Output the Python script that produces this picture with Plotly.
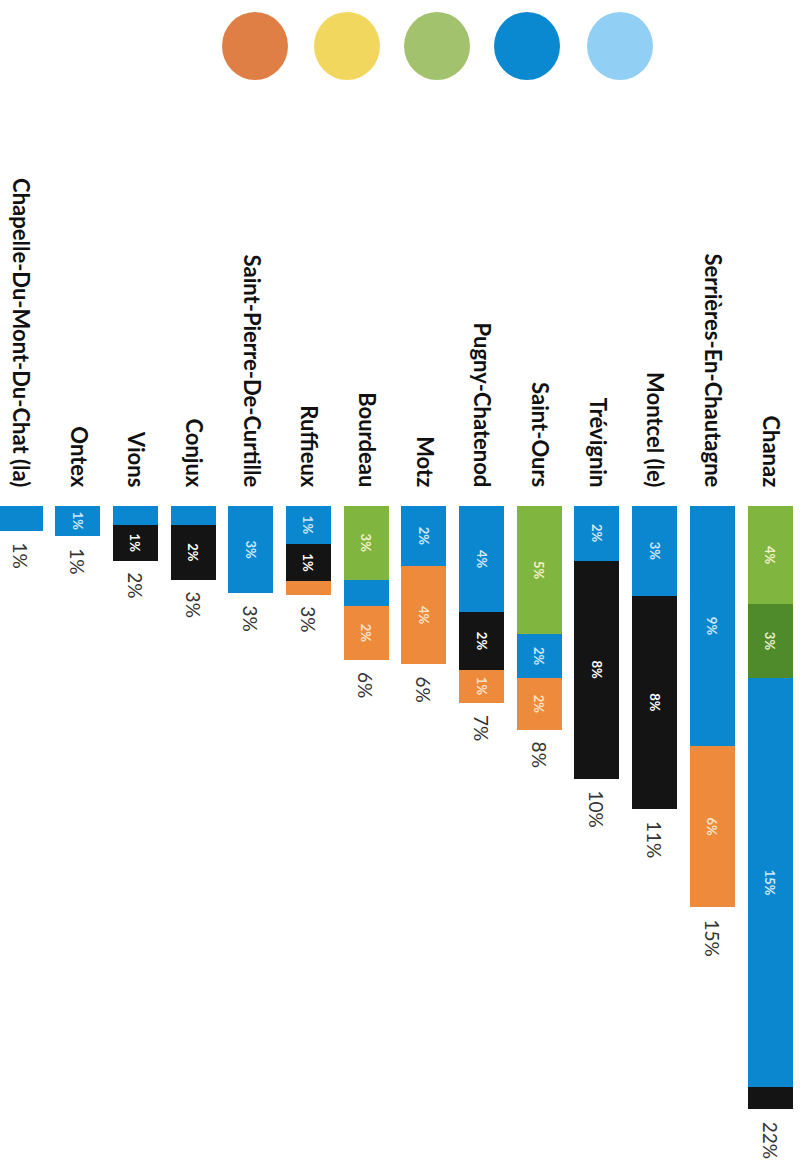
import plotly.graph_objects as go

categories = ["Chanaz", "Serrières-En-Chautagne", "Montcel (le)", "Trévignin", "Saint-Ours",
              "Pugny-Chatenod", "Motz", "Bourdeau", "Ruffieux", "Saint-Pierre-De-Curtille",
              "Conjux", "Vions", "Ontex", "Chapelle-Du-Mont-Du-Chat (la)"]

green      = [3.6, 0, 0, 0, 4.7, 0, 0, 2.7, 0, 0, 0, 0, 0, 0]
dark_green = [2.7, 0, 0, 0, 0, 0, 0, 0, 0, 0, 0, 0, 0, 0]
blue       = [15.0, 8.8, 3.3, 2.0, 1.6, 3.9, 2.2, 0.95, 1.4, 3.2, 0.7, 0.7, 1.1, 0.9]
black      = [0.8, 0, 7.8, 8.0, 0, 2.1, 0, 0, 1.35, 0, 2.0, 1.3, 0, 0]
orange     = [0, 5.9, 0, 0, 1.9, 1.2, 3.6, 2.0, 0.5, 0, 0, 0, 0, 0]

series = [
    ("Vert", green, "#80B53F", "#F4F1C8"),
    ("Vert foncé", dark_green, "#4F8A2B", "#EAF0C8"),
    ("Bleu", blue, "#0B87CF", "#CFE8FA"),
    ("Noir", black, "#141414", "#FFFFFF"),
    ("Orange", orange, "#EE8A3C", "#FBE3C8"),
]

legend_colors = ["#E07F45", "#F2D75E", "#A3C26E", "#0A88D0", "#92CFF5"]

totals = [sum(v) for v in zip(green, dark_green, blue, black, orange)]


def seg_label(v):
    return f"{v:.0f}%" if v >= 1 else ""


fig = go.Figure()
for name, vals, col, tcol in series:
    fig.add_trace(go.Bar(
        x=categories, y=vals, name=name,
        marker=dict(color=col, line=dict(width=0)),
        text=[seg_label(v) for v in vals],
        textposition="inside", insidetextanchor="middle", textangle=90,
        insidetextfont=dict(family="Lato", size=13, color=tcol, weight="bold"),
        width=0.78, hoverinfo="skip",
    ))

for cat, tot in zip(categories, totals):
    fig.add_annotation(
        x=cat, y=tot, text=f"{tot:.0f}%", showarrow=False, textangle=90,
        xanchor="center", yanchor="top", yshift=-10,
        font=dict(family="Lato", size=19, color="#333333"),
    )

H, T = 1167, 506
for i, c in enumerate(legend_colors):
    cx = [255, 347, 437, 527, 620][i] / 803
    fig.add_shape(
        type="circle", xref="paper", yref="paper",
        xsizemode="pixel", ysizemode="pixel",
        xanchor=cx, yanchor=(H - 46) / (H - T),
        x0=-33, x1=33, y0=-34, y1=34,
        fillcolor=c, line=dict(width=0),
    )

fig.update_layout(
    width=803, height=H,
    margin=dict(l=0, r=0, t=T, b=0),
    paper_bgcolor="white", plot_bgcolor="white",
    barmode="stack", bargap=0.22, showlegend=False,
    uniformtext=dict(minsize=10, mode="show"),
    xaxis=dict(side="top", tickangle=90, range=[13.347, -0.572],
               showgrid=False, showline=False, zeroline=False,
               ticks="outside", ticklen=10, tickcolor="rgba(0,0,0,0)",
               tickfont=dict(family="Lato", size=22, color="#111111", weight="bold")),
    yaxis=dict(range=[(H - T) / 27.3, 0], visible=False, showgrid=False, zeroline=False),
)

fig.write_html("out.html", post_script="document.body.style.margin='0';",
               config={"displayModeBar": False})
